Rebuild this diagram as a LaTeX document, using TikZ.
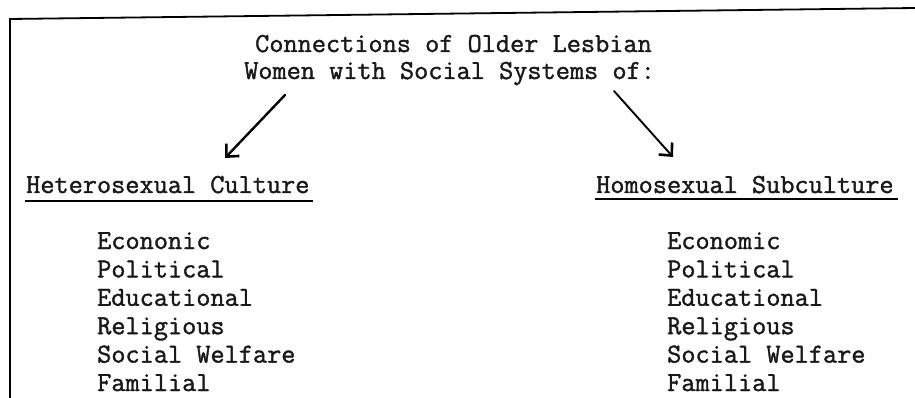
\documentclass[tikz,border=0pt]{standalone}
\usepackage{fontspec}
\newfontfamily\twfont[FakeBold=1.4]{Latin Modern Mono}
\usetikzlibrary{arrows.meta}
\tikzset{
  tw/.style={font=\twfont\fontsize{27.5}{32}\selectfont, inner sep=0pt, anchor=base west, text=black!90},
  arr/.style={-{Straight Barb[length=9.5pt,width=18pt,line width=2.6pt]}, line width=2.4pt, line cap=round},
  uline/.style={line width=2pt},
  frame/.style={line width=1.8pt}
}
\begin{document}
\begin{tikzpicture}[x=1pt,y=-1pt]
\useasboundingbox (0,0) rectangle (915,398);
% frame
\coordinate (fbl) at (10,398);
\coordinate (ftl) at (10,19);
\coordinate (ftr) at (915,8);
\draw[frame] (fbl) -- (ftl) -- (ftr);
% title
\node[tw] (t1) at (255,52) {Connections of Older Lesbian};
\node[tw] (t2) at (244,79) {Women with Social Systems of:};
% headings
\node[tw] (hl) at (26,193) {Heterosexual Culture};
\node[tw] (hr) at (596,193) {Homosexual Subculture};
\coordinate (ul1) at (25,201);
\coordinate (ul2) at (313,201);
\coordinate (ur1) at (595,199);
\coordinate (ur2) at (898,199);
\draw[uline] (ul1) -- (ul2);
\draw[uline] (ur1) -- (ur2);
% arrows
\coordinate (als) at (285,95);
\coordinate (ale) at (225,158);
\coordinate (ars) at (614,91);
\coordinate (are) at (673,157);
\draw[arr] (als) -- (ale);
\draw[arr, line width=1.9pt] (ars) -- (are);
% lists
\node[tw] (l1) at (97,249) {Econonic};
\node[tw] (l2) at (97,277.4) {Political};
\node[tw] (l3) at (97,305.8) {Educational};
\node[tw] (l4) at (97,334.2) {Religious};
\node[tw] (l5) at (97,362.6) {Social Welfare};
\node[tw] (l6) at (97,391) {Familial};
\node[tw] (r1) at (667,249) {Economic};
\node[tw] (r2) at (667,277.4) {Political};
\node[tw] (r3) at (667,305.8) {Educational};
\node[tw] (r4) at (667,334.2) {Religious};
\node[tw] (r5) at (667,362.6) {Social Welfare};
\node[tw] (r6) at (667,391) {Familial};
\end{tikzpicture}
\end{document}
